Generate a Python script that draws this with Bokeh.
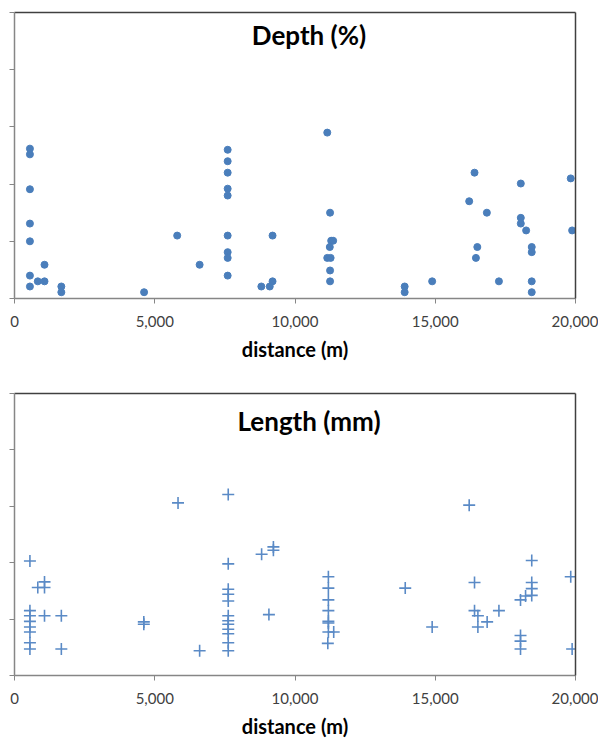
from bokeh.plotting import figure
from bokeh.layouts import column
from bokeh.models import (Range1d, FixedTicker, NumeralTickFormatter, CustomJSTickFormatter,
                          Label, LinearAxis)
from bokeh.embed import file_html
from bokeh.resources import INLINE

# ---- data ----
depth_x = [550, 550, 550, 550, 550, 550, 550,
           830, 1070, 1070, 1670, 1670,
           4620, 5800, 6600,
           7600, 7600, 7600, 7600, 7600, 7600, 7600, 7600, 7600,
           8800, 9100, 9200, 9200,
           11150, 11250, 11290, 11360, 11240, 11150, 11270, 11250, 11250,
           13910, 13910, 14890,
           16210, 16400, 16450, 16500, 16840, 17270,
           18050, 18050, 18050, 18240, 18440, 18440, 18440, 18440,
           19830, 19880]
depth_y = [26.2, 25.2, 19.1, 13.1, 10.0, 4.0, 2.1,
           3.0, 5.9, 3.0, 2.1, 1.1,
           1.1, 11.0, 5.9,
           26.0, 24.0, 22.0, 19.2, 18.0, 11.0, 8.1, 7.1, 4.0,
           2.1, 2.1, 11.0, 3.0,
           29.0, 15.0, 10.1, 10.1, 9.0, 7.1, 7.1, 4.9, 3.0,
           2.1, 1.1, 3.0,
           17.0, 22.0, 7.1, 9.0, 15.0, 3.0,
           20.1, 14.1, 13.1, 11.9, 9.0, 8.1, 3.0, 1.1,
           21.0, 11.9]

length_x = [550, 550, 550, 550, 550, 550, 550, 550,
            830, 1070, 1070, 1070,
            1670, 1670,
            4610, 4610,
            5830, 6600,
            7620, 7620, 7620, 7620, 7620, 7620, 7620, 7620, 7620, 7620, 7620, 7620,
            8810, 9230, 9230, 9070,
            11190, 11190, 11190, 11190, 11190, 11190, 11190, 11380, 11170,
            13930, 14890,
            16210, 16400, 16400, 16520, 16520, 16850, 17270,
            18040, 18040, 18040, 18040, 18220,
            18440, 18440, 18440, 18440,
            19830, 19880]
length_y = [20.3, 11.5, 10.6, 9.6, 8.6, 7.7, 5.8, 4.7,
            15.6, 15.6, 16.6, 10.6,
            10.6, 4.7,
            9.5, 9.1,
            30.6, 4.4,
            32.1, 19.8, 15.3, 14.4, 13.2, 10.6, 9.7, 9.1, 8.2, 7.4, 5.8, 4.4,
            21.5, 22.8, 22.2, 10.8,
            17.5, 15.5, 13.4, 11.5, 9.6, 9.3, 7.7, 7.7, 5.7,
            15.5, 8.6,
            30.2, 16.5, 11.5, 10.6, 8.6, 9.5, 11.5,
            13.4, 7.1, 6.1, 4.7, 14.1,
            20.4, 16.5, 15.4, 14.2,
            17.5, 4.7]

x_ticks = [0, 5000, 10000, 15000, 20000]
y_ticks = [0, 10, 20, 30, 40, 50]
titles = ["Depth (%)", "Length (mm)"]
x_label = "distance (m)"

BLUE = "#4A7EBB"
FONT = "Lato"


def frame_axis(side):
    ax = LinearAxis(ticker=FixedTicker(ticks=[]),
                    formatter=CustomJSTickFormatter(code="return ''"))
    ax.axis_line_color = "#404040"
    ax.axis_line_width = 1.5
    ax.major_tick_line_color = None
    ax.minor_tick_line_color = None
    ax.major_tick_out = 0
    ax.major_tick_in = 0
    ax.major_label_standoff = 0
    return ax


def make_fig(height, top, bottom, title, title_y):
    p = figure(width=598, height=height,
               x_range=Range1d(0, 20000), y_range=Range1d(0, 50),
               output_backend="svg", toolbar_location=None,
               min_border_left=14, min_border_right=23,
               min_border_top=top, min_border_bottom=bottom)
    p.outline_line_color = None
    p.xgrid.visible = False
    p.ygrid.visible = False
    p.background_fill_color = "white"
    p.border_fill_color = "white"

    xa = p.xaxis[0]
    xa.ticker = FixedTicker(ticks=x_ticks)
    xa.formatter = NumeralTickFormatter(format="0,0")
    xa.axis_line_color = "#868686"
    xa.axis_line_width = 1.5
    xa.major_tick_line_color = "#868686"
    xa.major_tick_out = 5
    xa.major_tick_in = 0
    xa.minor_tick_line_color = None
    xa.major_label_text_font = FONT
    xa.major_label_text_font_size = "15px"
    xa.major_label_text_color = "#404040"
    xa.major_label_standoff = 12
    xa.axis_label = x_label
    xa.axis_label_text_font = FONT
    xa.axis_label_text_font_size = "20px"
    xa.axis_label_text_font_style = "bold"
    xa.axis_label_text_color = "black"
    xa.axis_label_standoff = 7

    ya = p.yaxis[0]
    ya.ticker = FixedTicker(ticks=y_ticks)
    ya.formatter = CustomJSTickFormatter(code="return ''")
    ya.axis_line_color = "#868686"
    ya.axis_line_width = 1.5
    ya.major_tick_line_color = "#868686"
    ya.major_tick_out = 5
    ya.major_tick_in = 0
    ya.minor_tick_line_color = None
    ya.major_label_standoff = 0

    p.add_layout(frame_axis("above"), "above")
    p.add_layout(frame_axis("right"), "right")

    p.add_layout(Label(x=10500, y=title_y, text=title, text_align="center",
                       text_baseline="middle", text_font=FONT, text_font_size="26px",
                       text_font_style="bold", text_color="black"))
    return p


p1 = make_fig(363, 12, 62, titles[0], 46)
p1.scatter(depth_x, depth_y, marker="circle", size=7, fill_color=BLUE, line_color=BLUE)

p2 = make_fig(377, 30, 63, titles[1], 45.2)
p2.scatter(length_x, length_y, marker="cross", size=12, line_color="#5A8AC6", line_width=1.6)

layout = column(p1, p2, spacing=0)
open("out.html", "w").write(file_html(layout, INLINE))
